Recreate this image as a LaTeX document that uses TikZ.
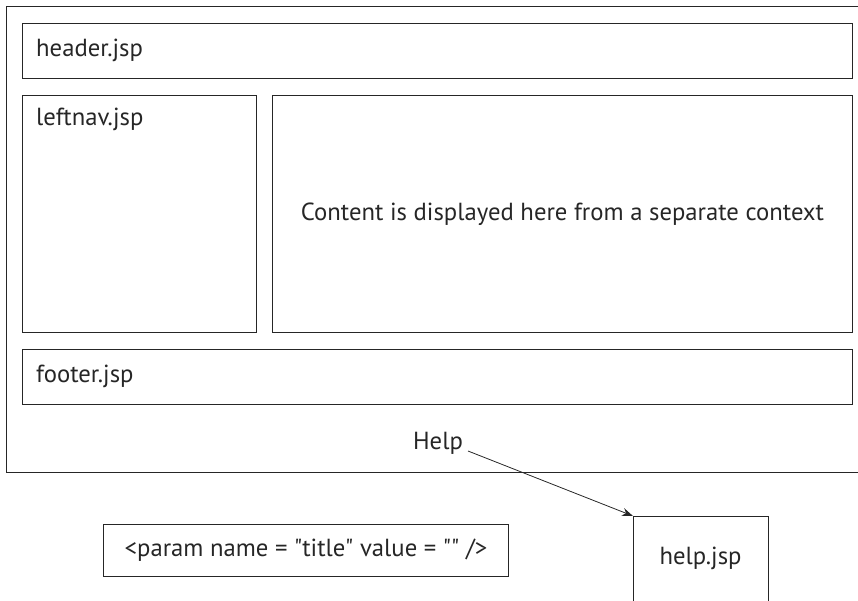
\documentclass[tikz,border=0pt]{standalone}
\usepackage{fontspec}
\setmainfont{PT Sans}[Ligatures=TeXOff]
\usetikzlibrary{arrows.meta}
\begin{document}
\begin{tikzpicture}[x=1pt,y=-1pt,
  box/.style={draw=black!85, line width=1pt},
  lbl/.style={font=\fontsize{24.7}{28}\selectfont, text=black!85, inner sep=0pt},
  conn/.style={-{Stealth[length=11pt,width=8pt]}, line width=0.8pt, black!85}]
\useasboundingbox (0,0) rectangle (858,601);
\draw[box] (870,7) -- (6,7) -- (6,472) -- (870,472);
\node[box, minimum width=830, minimum height=55, inner sep=0pt, anchor=north west] (header) at (22,23) {};
\node[lbl, anchor=west] (headert) at (36,50.5) {header.jsp};
\node[box, minimum width=234, minimum height=237, inner sep=0pt, anchor=north west] (leftnav) at (22,95) {};
\node[lbl, anchor=north west] (leftnavt) at (36,108) {leftnav.jsp};
\node[box, minimum width=580, minimum height=237, inner sep=0pt, anchor=north west] (content) at (272,95) {};
\node[lbl] (contentt) at (content.center) {Content is displayed here from a separate context};
\node[box, minimum width=830, minimum height=55, inner sep=0pt, anchor=north west] (footer) at (22,349) {};
\node[lbl, anchor=west] (footert) at (36,376.5) {footer.jsp};
\node[lbl] (help) at (438,443) {Help};
\draw[box] (633,620) -- (633,516) -- (768,516) -- (768,620);
\coordinate (helpbox) at (633,516);
\node[lbl] (helpt) at (700.5,558) {help.jsp};
\node[box, minimum width=405, minimum height=52, inner sep=0pt, anchor=north west] (param) at (103,524) {};
\node[lbl] (paramt) at (param.center) {<param name = "title" value = "" />};
\draw[conn] (468,451) -- (helpbox);
\end{tikzpicture}
\end{document}
